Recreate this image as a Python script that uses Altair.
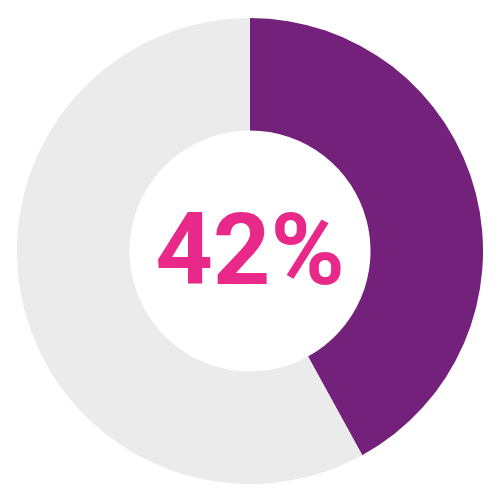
import altair as alt
import pandas as pd

categories = ["Yes", "Rest"]
values = [42, 58]
orders = [0, 1]
colors = ["#74217B", "#EBEBEB"]
label = "42%"

df = pd.DataFrame({"category": categories, "value": values, "order": orders})

W = 486
arc = alt.Chart(df).mark_arc(outerRadius=234, innerRadius=121, stroke=None).encode(
    theta=alt.Theta("value:Q", stack=True),
    order=alt.Order("order:Q"),
    color=alt.Color("category:N", scale=alt.Scale(domain=categories, range=colors), legend=None),
)

text = alt.Chart(pd.DataFrame({"label": [label]})).mark_text(
    font="Roboto", fontWeight="bold", fontSize=101, color="#E8298A",
    align="center", baseline="alphabetic",
).encode(
    text="label:N",
    x=alt.value(W / 2),
    y=alt.value(W / 2 + 33),
)

chart = alt.layer(arc, text).properties(
    width=W, height=W, padding=0, autosize=alt.AutoSizeParams(type="none")
).configure_view(strokeWidth=0)

chart.save("out.html", embed_options={"renderer": "svg", "actions": False})
